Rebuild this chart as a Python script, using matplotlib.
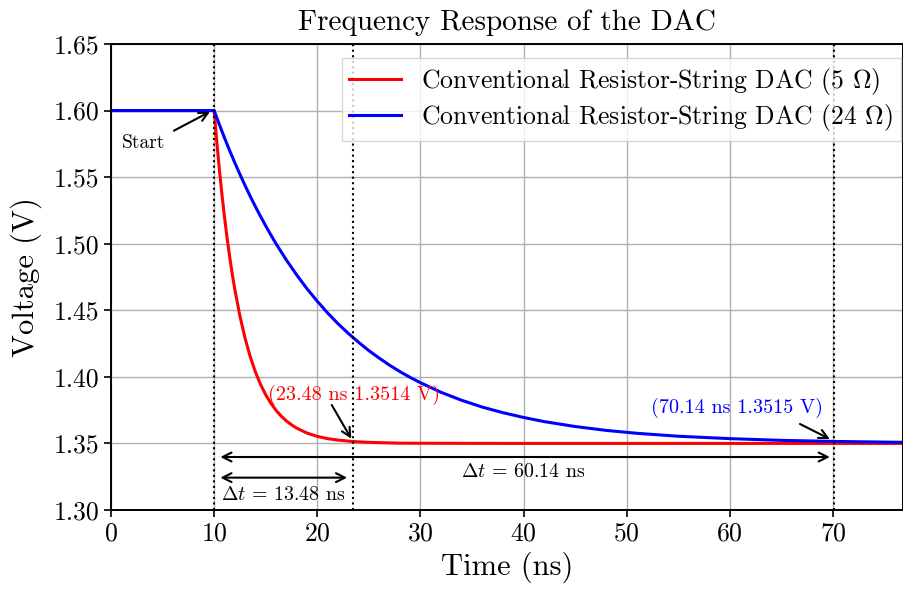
import matplotlib
matplotlib.use("Agg")
import matplotlib.pyplot as plt

plt.rcParams['font.family'] = 'serif'
plt.rcParams['font.serif'] = ['cmr10']
plt.rcParams['mathtext.fontset'] = 'cm'
plt.rcParams['axes.formatter.use_mathtext'] = True
plt.rcParams['axes.unicode_minus'] = False

# red curve (5 ohm)
t_red = [0, 10, 10.25, 10.5, 10.75, 11, 11.25, 11.5, 11.75, 12, 12.5, 13, 13.5, 14,
         14.5, 15, 15.5, 16, 16.5, 17, 17.5, 18, 19, 20, 21, 22, 23.48, 25, 28, 32,
         40, 50, 60, 70, 76.8]
v_red = [1.6000, 1.6000, 1.5771, 1.5563, 1.5374, 1.5202, 1.5046, 1.4904, 1.4775,
         1.4659, 1.4456, 1.4289, 1.4151, 1.4037, 1.3943, 1.3865, 1.3802, 1.3749,
         1.3705, 1.3669, 1.3640, 1.3615, 1.3578, 1.3553, 1.3536, 1.3525, 1.3514,
         1.3508, 1.3502, 1.3501, 1.3500, 1.3500, 1.3500, 1.3500, 1.3500]

# blue curve (24 ohm)
t_blue = [0, 10, 10.5, 11, 11.5, 12, 12.5, 13, 13.5, 14, 14.5, 15, 15.5, 16, 17, 18,
          19, 20, 21, 22, 23, 24, 25, 26, 27, 28, 29, 30, 32, 34, 36, 38, 40, 42, 45,
          48, 51, 55, 60, 65, 70.14, 77]
v_blue = [1.6000, 1.6000, 1.5896, 1.5796, 1.5700, 1.5609, 1.5521, 1.5437, 1.5356,
          1.5279, 1.5205, 1.5134, 1.5066, 1.5000, 1.4878, 1.4766, 1.4662, 1.4568,
          1.4480, 1.4400, 1.4327, 1.4260, 1.4197, 1.4141, 1.4088, 1.4040, 1.3996,
          1.3956, 1.3884, 1.3824, 1.3773, 1.3731, 1.3695, 1.3664, 1.3627, 1.3598,
          1.3576, 1.3554, 1.3536, 1.3523, 1.3515, 1.3508]

marks = [10, 23.48, 70.14]
y_ticks = [1.30, 1.35, 1.40, 1.45, 1.50, 1.55, 1.60, 1.65]
x_ticks = [0, 10, 20, 30, 40, 50, 60, 70]

fig, ax = plt.subplots(figsize=(9.04, 5.9), dpi=100)
fig.subplots_adjust(left=0.1228, right=0.999, top=0.9254, bottom=0.1356)

ax.plot(t_red, v_red, color='red', lw=2.2, label=r'Conventional Resistor-String DAC (5 $\Omega$)')
ax.plot(t_blue, v_blue, color='blue', lw=2.2, label=r'Conventional Resistor-String DAC (24 $\Omega$)')

for m in marks:
    ax.axvline(m, color='black', ls=':', lw=1.5)

ax.set_xlim(0, 76.8)
ax.set_ylim(1.30, 1.65)
ax.set_xticks(x_ticks)
ax.set_yticks(y_ticks)
ax.set_yticklabels(['%.2f' % v for v in y_ticks])
ax.tick_params(labelsize=18.5, length=5, width=1.2)
for s in ax.spines.values():
    s.set_linewidth(1.4)
ax.grid(True, color='#b0b0b0', lw=1)

ax.set_xlabel('Time (ns)', fontsize=22)
ax.set_ylabel('Voltage (V)', fontsize=22, labelpad=8)
ax.set_title('Frequency Response of the DAC', fontsize=21, pad=10)

arr = dict(arrowstyle='->', color='black', lw=1.5, shrinkA=0, shrinkB=0, mutation_scale=16)
ax.annotate('', xy=(9.6, 1.5992), xytext=(6.1, 1.5849), arrowprops=arr)
ax.text(3.2, 1.5757, 'Start', fontsize=14, ha='center', va='center')

ax.annotate('', xy=(23.3, 1.3535), xytext=(21.4, 1.3789), arrowprops=arr)
ax.text(23.6, 1.3865, '(23.48 ns 1.3514 V)', color='red', fontsize=14.5, ha='center', va='center')

ax.annotate('', xy=(69.7, 1.3533), xytext=(66.8, 1.3646), arrowprops=arr)
ax.text(60.7, 1.3766, '(70.14 ns 1.3515 V)', color='blue', fontsize=14.5, ha='center', va='center')

darr = dict(arrowstyle='<->', color='black', lw=1.5, shrinkA=0, shrinkB=0, mutation_scale=16)
ax.annotate('', xy=(10.6, 1.3398), xytext=(69.7, 1.3398), arrowprops=darr)
ax.text(40.0, 1.3285, r'$\Delta t$ = 60.14 ns', fontsize=14.3, ha='center', va='center')
ax.annotate('', xy=(10.6, 1.3243), xytext=(22.9, 1.3243), arrowprops=darr)
ax.text(16.7, 1.3113, r'$\Delta t$ = 13.48 ns', fontsize=14.3, ha='center', va='center')

ax.legend(loc='upper right', bbox_to_anchor=(0.9975, 0.97), borderaxespad=0,
          fontsize=18.5, fancybox=False, edgecolor='#cccccc', framealpha=0.8,
          handlelength=2.0, labelspacing=0.22, borderpad=0.3)

fig.savefig('out.png', dpi=100)
